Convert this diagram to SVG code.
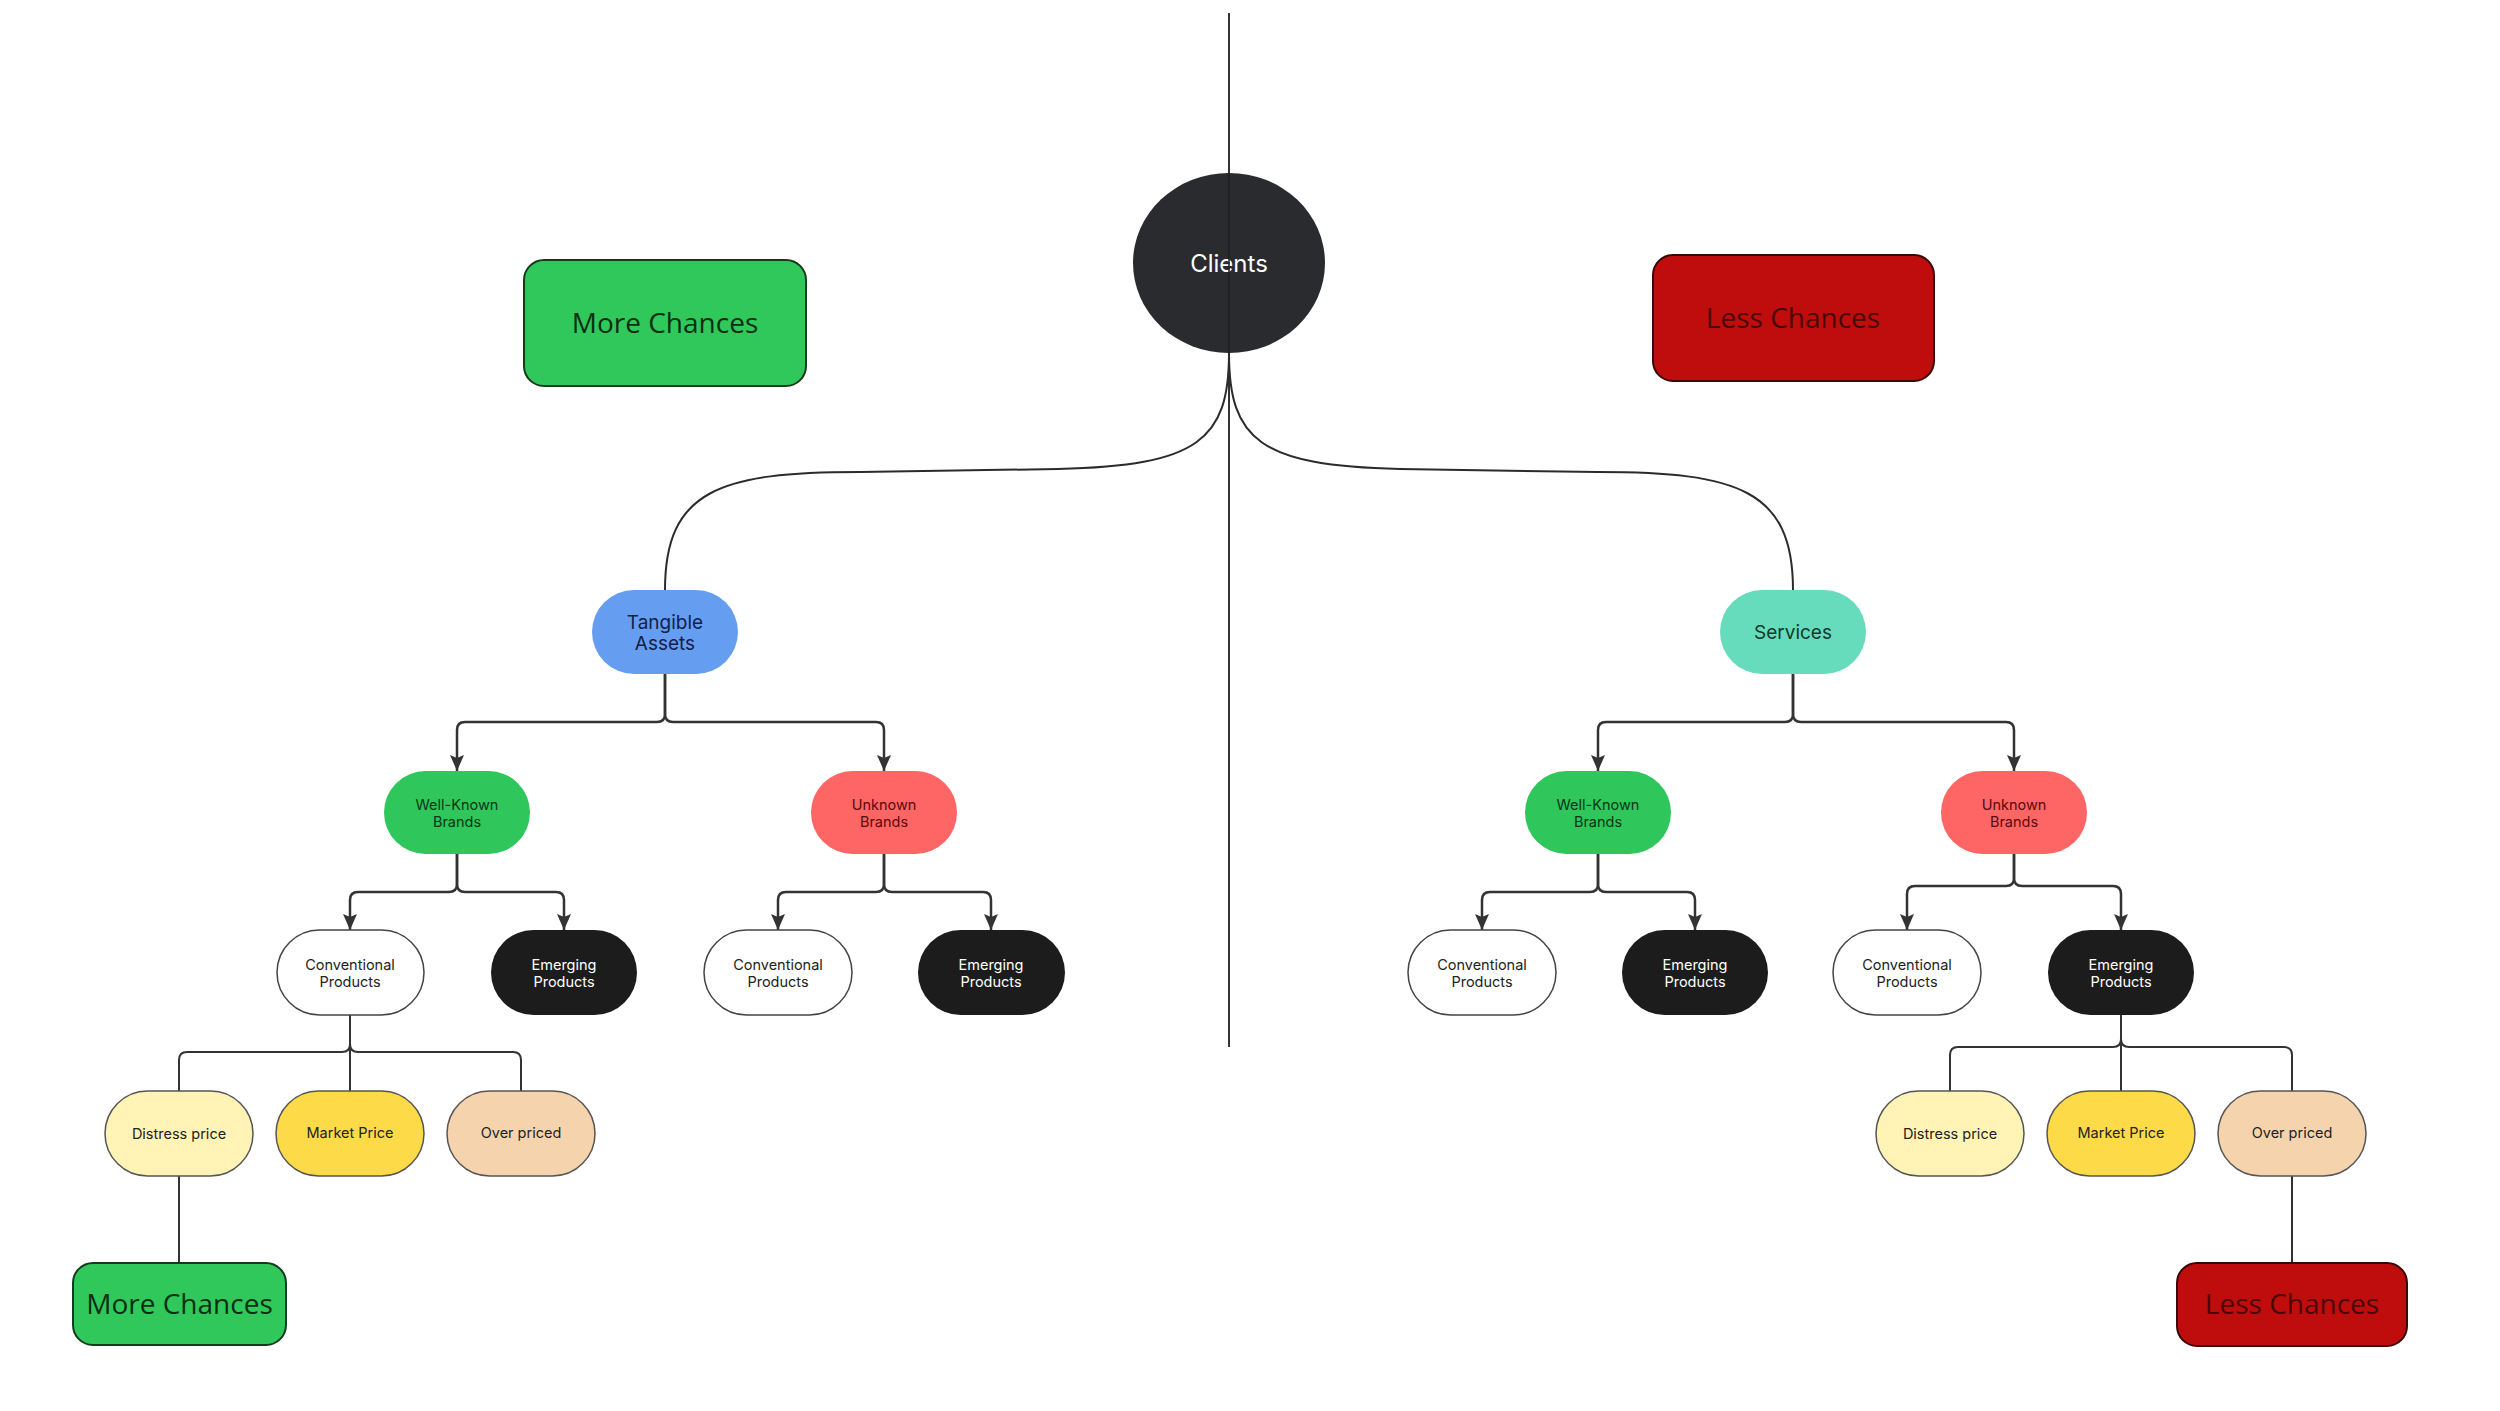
<svg xmlns="http://www.w3.org/2000/svg" width="2500" height="1411" viewBox="0 0 2500 1411">
<style>
.pill text{font-family:Inter,"Liberation Sans",sans-serif;font-size:14.5px;text-anchor:middle}
.big{font-family:"Open Sans","Noto Sans",sans-serif;font-size:28px;text-anchor:middle}
.con{fill:none;stroke:#333;stroke-width:2.5}
.thin{fill:none;stroke:#333;stroke-width:2}
.curve{fill:none;stroke:#2b2b2b;stroke-width:2}
</style>
<defs>
<marker id="arr" viewBox="0 0 16 14" refX="16" refY="7" markerWidth="16" markerHeight="14" markerUnits="userSpaceOnUse" orient="auto">
<path d="M0,0 L16,7 L0,14 L3,7 Z" fill="#333"/>
</marker>
</defs>
<rect width="2500" height="1411" fill="#fff"/>

<g id="connectors">
<line x1="1229" y1="13" x2="1229" y2="1047" stroke="#333" stroke-width="2"/>
<path class="curve" d="M1229,353 C1229,440 1198,466 1058,469 L860,472 C720,472 665,490 665,590"/>
<path class="curve" d="M1229,353 C1229,440 1260,466 1400,469 L1598,472 C1738,472 1793,490 1793,590"/>
<path class="con" marker-end="url(#arr)" d="M665,674 V714 Q665,722 657,722 H465 Q457,722 457,730 V771"/>
<path class="con" marker-end="url(#arr)" d="M665,674 V714 Q665,722 673,722 H876 Q884,722 884,730 V771"/>
<path class="con" marker-end="url(#arr)" d="M1793,674 V714 Q1793,722 1785,722 H1606 Q1598,722 1598,730 V771"/>
<path class="con" marker-end="url(#arr)" d="M1793,674 V714 Q1793,722 1801,722 H2006 Q2014,722 2014,730 V771"/>
<path class="con" marker-end="url(#arr)" d="M457,854 V884 Q457,892 449,892 H358 Q350,892 350,900 V930"/>
<path class="con" marker-end="url(#arr)" d="M457,854 V884 Q457,892 465,892 H556 Q564,892 564,900 V930"/>
<path class="con" marker-end="url(#arr)" d="M884,854 V884 Q884,892 876,892 H786 Q778,892 778,900 V930"/>
<path class="con" marker-end="url(#arr)" d="M884,854 V884 Q884,892 892,892 H983 Q991,892 991,900 V930"/>
<path class="con" marker-end="url(#arr)" d="M1598,854 V884 Q1598,892 1590,892 H1490 Q1482,892 1482,900 V930"/>
<path class="con" marker-end="url(#arr)" d="M1598,854 V884 Q1598,892 1606,892 H1687 Q1695,892 1695,900 V930"/>
<path class="con" marker-end="url(#arr)" d="M2014,854 V878 Q2014,886 2006,886 H1915 Q1907,886 1907,894 V930"/>
<path class="con" marker-end="url(#arr)" d="M2014,854 V878 Q2014,886 2022,886 H2113 Q2121,886 2121,894 V930"/>
<path class="thin" d="M350,1015 V1044 Q350,1052 342,1052 H187 Q179,1052 179,1060 V1091"/>
<path class="thin" d="M350,1015 V1044 Q350,1052 358,1052 H513 Q521,1052 521,1060 V1091"/>
<path class="thin" d="M350,1015 V1091"/>
<path class="thin" d="M2121,1015 V1039 Q2121,1047 2113,1047 H1958 Q1950,1047 1950,1055 V1091"/>
<path class="thin" d="M2121,1015 V1039 Q2121,1047 2129,1047 H2284 Q2292,1047 2292,1055 V1091"/>
<path class="thin" d="M2121,1015 V1091"/>
<path class="thin" d="M179,1176 V1263"/>
<path class="thin" d="M2292,1176 V1263"/>
</g>

<g id="clients">
<ellipse cx="1229" cy="263" rx="96" ry="90" fill="#2a2b2f"/>
<text x="1229" y="272" font-family="Inter,'Liberation Sans',sans-serif" font-size="24" fill="#fff" text-anchor="middle">Clients</text>
<line x1="1229" y1="173" x2="1229" y2="353" stroke="#1e1f22" stroke-width="1.5"/>
</g>

<g id="more-chances-top">
<rect x="524" y="260" width="282" height="126" rx="20" fill="#30c85b" stroke="#173a1d" stroke-width="2"/>
<text class="big" x="665" y="333" fill="#0b2e13">More Chances</text>
</g>
<g id="less-chances-top">
<rect x="1653" y="255" width="281" height="126" rx="20" fill="#bf0d0d" stroke="#3a0707" stroke-width="2"/>
<text class="big" x="1793" y="328" fill="#4a0808">Less Chances</text>
</g>

<g id="tangible-assets" class="pill">
<rect x="592" y="590" width="146" height="84" rx="42" fill="#659ef0"/>
<text x="665" y="629" font-size="19" fill="#14204a" style="font-size:19px">Tangible</text>
<text x="665" y="650" fill="#14204a" style="font-size:19px">Assets</text>
</g>
<g id="services" class="pill">
<rect x="1720" y="590" width="146" height="84" rx="42" fill="#67dcbc"/>
<text x="1793" y="639" fill="#0f3a2e" style="font-size:19px">Services</text>
</g>

<g id="wk-left" class="pill">
<rect x="384" y="771" width="146" height="83" rx="41.5" fill="#2fc65b"/>
<text x="457" y="810" fill="#0b3515">Well-Known</text>
<text x="457" y="827" fill="#0b3515">Brands</text>
</g>
<g id="unknown-left" class="pill">
<rect x="811" y="771" width="146" height="83" rx="41.5" fill="#fe6565"/>
<text x="884" y="810" fill="#5a0a0a">Unknown</text>
<text x="884" y="827" fill="#5a0a0a">Brands</text>
</g>
<g id="wk-right" class="pill">
<rect x="1525" y="771" width="146" height="83" rx="41.5" fill="#2fc65b"/>
<text x="1598" y="810" fill="#0b3515">Well-Known</text>
<text x="1598" y="827" fill="#0b3515">Brands</text>
</g>
<g id="unknown-right" class="pill">
<rect x="1941" y="771" width="146" height="83" rx="41.5" fill="#fe6565"/>
<text x="2014" y="810" fill="#5a0a0a">Unknown</text>
<text x="2014" y="827" fill="#5a0a0a">Brands</text>
</g>

<g id="conv-1" class="pill">
<rect x="277" y="930" width="147" height="85" rx="42.5" fill="#fff" stroke="#444" stroke-width="1.5"/>
<text x="350" y="970" fill="#222">Conventional</text>
<text x="350" y="987" fill="#222">Products</text>
</g>
<g id="emerg-1" class="pill">
<rect x="491" y="930" width="146" height="85" rx="42.5" fill="#1c1c1c"/>
<text x="564" y="970" fill="#fff">Emerging</text>
<text x="564" y="987" fill="#fff">Products</text>
</g>
<g id="conv-2" class="pill">
<rect x="704" y="930" width="148" height="85" rx="42.5" fill="#fff" stroke="#444" stroke-width="1.5"/>
<text x="778" y="970" fill="#222">Conventional</text>
<text x="778" y="987" fill="#222">Products</text>
</g>
<g id="emerg-2" class="pill">
<rect x="918" y="930" width="147" height="85" rx="42.5" fill="#1c1c1c"/>
<text x="991" y="970" fill="#fff">Emerging</text>
<text x="991" y="987" fill="#fff">Products</text>
</g>
<g id="conv-3" class="pill">
<rect x="1408" y="930" width="148" height="85" rx="42.5" fill="#fff" stroke="#444" stroke-width="1.5"/>
<text x="1482" y="970" fill="#222">Conventional</text>
<text x="1482" y="987" fill="#222">Products</text>
</g>
<g id="emerg-3" class="pill">
<rect x="1622" y="930" width="146" height="85" rx="42.5" fill="#1c1c1c"/>
<text x="1695" y="970" fill="#fff">Emerging</text>
<text x="1695" y="987" fill="#fff">Products</text>
</g>
<g id="conv-4" class="pill">
<rect x="1833" y="930" width="148" height="85" rx="42.5" fill="#fff" stroke="#444" stroke-width="1.5"/>
<text x="1907" y="970" fill="#222">Conventional</text>
<text x="1907" y="987" fill="#222">Products</text>
</g>
<g id="emerg-4" class="pill">
<rect x="2048" y="930" width="146" height="85" rx="42.5" fill="#1c1c1c"/>
<text x="2121" y="970" fill="#fff">Emerging</text>
<text x="2121" y="987" fill="#fff">Products</text>
</g>

<g id="distress-left" class="pill">
<rect x="105" y="1091" width="148" height="85" rx="42.5" fill="#fff4b6" stroke="#555" stroke-width="1.5"/>
<text x="179" y="1139" fill="#222">Distress price</text>
</g>
<g id="market-left" class="pill">
<rect x="276" y="1091" width="148" height="85" rx="42.5" fill="#fdda48" stroke="#555" stroke-width="1.5"/>
<text x="350" y="1138" fill="#222">Market Price</text>
</g>
<g id="over-left" class="pill">
<rect x="447" y="1091" width="148" height="85" rx="42.5" fill="#f5d3ad" stroke="#555" stroke-width="1.5"/>
<text x="521" y="1138" fill="#222">Over priced</text>
</g>
<g id="distress-right" class="pill">
<rect x="1876" y="1091" width="148" height="85" rx="42.5" fill="#fff4b6" stroke="#555" stroke-width="1.5"/>
<text x="1950" y="1139" fill="#222">Distress price</text>
</g>
<g id="market-right" class="pill">
<rect x="2047" y="1091" width="148" height="85" rx="42.5" fill="#fdda48" stroke="#555" stroke-width="1.5"/>
<text x="2121" y="1138" fill="#222">Market Price</text>
</g>
<g id="over-right" class="pill">
<rect x="2218" y="1091" width="148" height="85" rx="42.5" fill="#f5d3ad" stroke="#555" stroke-width="1.5"/>
<text x="2292" y="1138" fill="#222">Over priced</text>
</g>

<g id="more-chances-bottom">
<rect x="73" y="1263" width="213" height="82" rx="20" fill="#30c85b" stroke="#173a1d" stroke-width="2"/>
<text class="big" x="179.5" y="1314" fill="#0b2e13">More Chances</text>
</g>
<g id="less-chances-bottom">
<rect x="2177" y="1263" width="230" height="83" rx="20" fill="#bf0d0d" stroke="#3a0707" stroke-width="2"/>
<text class="big" x="2292" y="1314" fill="#4a0808">Less Chances</text>
</g>
</svg>
